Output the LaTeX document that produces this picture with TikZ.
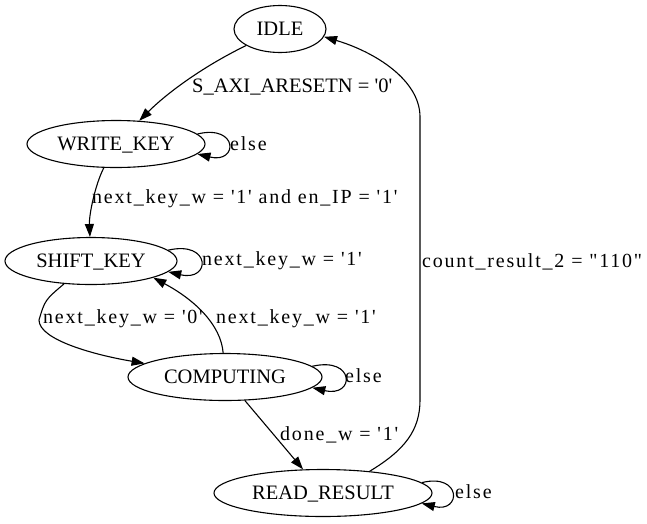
\documentclass[tikz,border=0pt]{standalone}
\usepackage{fontspec}
\setmainfont{Liberation Serif}[Ligatures=TeXOff]
\newfontfamily\labelfont{Liberation Serif}[Ligatures=TeXOff, LetterSpace=9]
\usetikzlibrary{shapes,arrows.meta,positioning}

\begin{document}
\begin{tikzpicture}[x=1pt, y=-1pt,
    font=\fontsize{20.5}{25}\selectfont,
    state/.style={draw, ellipse, line width=1.1pt, inner sep=0pt, minimum height=47pt, text height=15pt, text depth=3pt},
    edge/.style={line width=1.1pt, -{Triangle[length=13pt, width=9pt]}},
    lbl/.style={anchor=base west, inner sep=0pt, font=\fontsize{20}{25}\labelfont}]
    \useasboundingbox (0,0) rectangle (647,523);

    % states
    \node[state, minimum width=92pt] (idle) at (280,29) {IDLE};
    \node[state, minimum width=178pt] (writekey) at (116,144) {WRITE\_KEY};
    \node[state, minimum width=172pt] (shiftkey) at (91,261) {SHIFT\_KEY};
    \node[state, minimum width=194pt] (computing) at (225,377) {COMPUTING};
    \node[state, minimum width=218pt] (readresult) at (323,493) {READ\_RESULT};

    % reset and key loading
    \draw[edge] (idle) .. controls (200,68) and (165,95) .. (writekey);
    \draw[edge] (writekey.7) .. controls +(41,-10) and +(41,10) .. (writekey.-7);
    \draw[edge] (writekey) .. controls (95,185) and (89,215) .. (shiftkey);
    \draw[edge] (shiftkey.8) .. controls +(43,-10) and +(43,10) .. (shiftkey.-8);

    % computing
    \draw[edge] (shiftkey) .. controls (45,300) .. (39,320) .. controls (39,340) and (95,355) .. (computing);
    \draw[edge] (computing) .. controls (221,325) and (195,300) .. (shiftkey.-15);
    \draw[edge] (computing.7) .. controls +(43,-10) and +(43,10) .. (computing.-7);
    \draw[edge] (computing) -- (readresult);
    \draw[edge] (readresult.6) .. controls +(40,-10) and +(40,10) .. (readresult.-6);

    % back to idle
    \draw[edge] (readresult.25) .. controls (405,450) and (420,430) .. (420,400) -- (420,117)
        .. controls (420,80) and (375,52) .. (idle.-10);

    % labels
    \node[lbl, font=\fontsize{20.5}{25}\rmfamily] (resetlbl) at (192,92) {S\_AXI\_ARESETN = '0'};
    \node[lbl] (wkelse) at (230,150) {else};
    \node[lbl] (loadlbl) at (92,203) {next\_key\_w = '1' and en\_IP = '1'};
    \node[lbl] (skstay) at (202,265) {next\_key\_w = '1'};
    \node[lbl] (sktocomp) at (43,323) {next\_key\_w = '0'};
    \node[lbl] (comptosk) at (216,323) {next\_key\_w = '1'};
    \node[lbl] (compelse) at (345,382) {else};
    \node[lbl] (donelbl) at (280,440) {done\_w = '1'};
    \node[lbl] (rrelse) at (455,498) {else};
    \node[lbl] (countlbl) at (422,267) {count\_result\_2 = "110"};
\end{tikzpicture}
\end{document}
